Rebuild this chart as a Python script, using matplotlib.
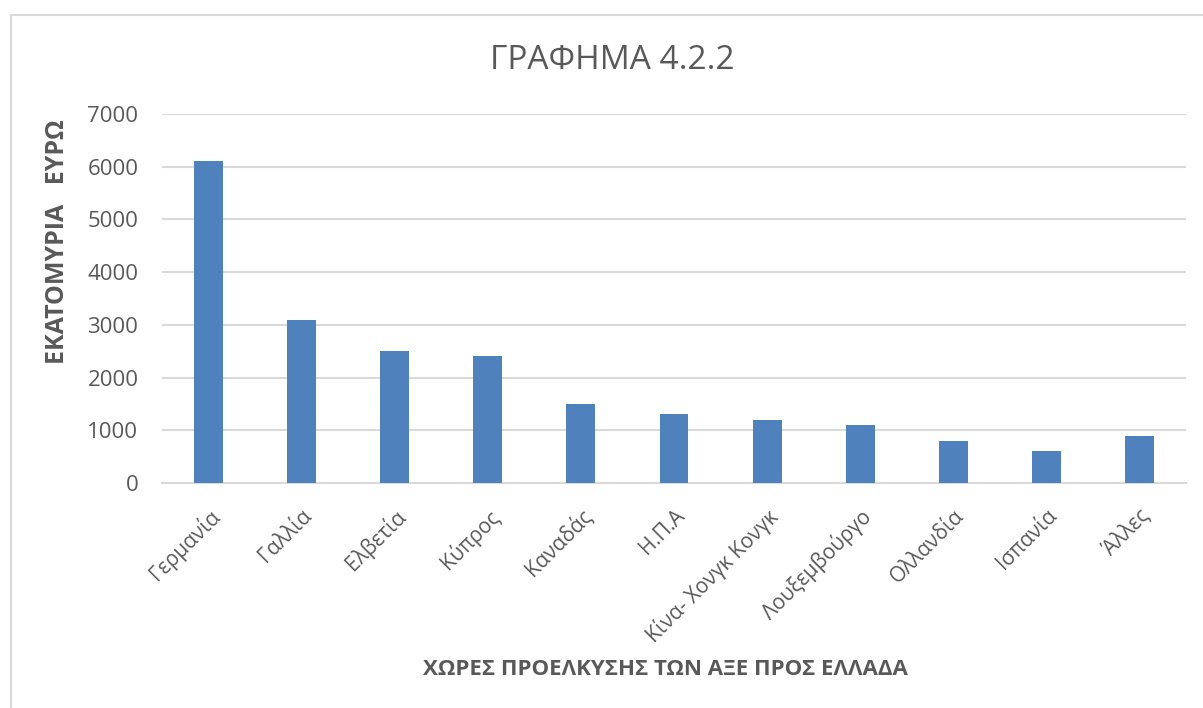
import numpy as np
import matplotlib.pyplot as plt
from matplotlib.patches import Rectangle

# Data
countries = ['Γερμανία', 'Γαλλία', 'Ελβετία', 'Κύπρος', 'Καναδάς', 'Η.Π.Α',
             'Κίνα- Χονγκ Κονγκ', 'Λουξεμβούργο', 'Ολλανδία', 'Ισπανία', 'Άλλες']
values = [6100, 3100, 2500, 2400, 1500, 1300, 1200, 1100, 800, 600, 900]
yticks = [0, 1000, 2000, 3000, 4000, 5000, 6000, 7000]

plt.rcParams['font.family'] = ['Open Sans', 'DejaVu Sans']
text_col = '#595959'
grid_col = '#D9D9D9'

fig = plt.figure(figsize=(12.03, 7.08), dpi=100)
fig.patches.append(Rectangle((11 / 1203, -0.1), 1.2, 1 - 15 / 708 + 0.1,
                             transform=fig.transFigure, fill=False,
                             edgecolor=grid_col, linewidth=1.5))

ax = fig.add_axes([162 / 1203, 1 - 483 / 708, (1186 - 162) / 1203, (483 - 114) / 708])
x = np.arange(len(countries))
ax.bar(x, values, width=0.31, color='#4F81BD', zorder=3)

ax.set_xlim(-0.5, len(countries) - 0.5)
ax.set_ylim(0, 7000)
ax.set_yticks(yticks)
ax.set_xticks(x)
ax.set_xticklabels(countries, rotation=45, ha='right', rotation_mode='anchor')
ax.grid(axis='y', color=grid_col, linewidth=1.5, zorder=0)
for s in ['top', 'right', 'left']:
    ax.spines[s].set_visible(False)
ax.spines['bottom'].set_color(grid_col)
ax.spines['bottom'].set_linewidth(1.5)
ax.tick_params(axis='y', length=0, labelsize=16, labelcolor=text_col, pad=17)
ax.tick_params(axis='x', length=0, labelsize=15, labelcolor=text_col, pad=16)

fig.text(0.509, 0.915, 'ΓΡΑΦΗΜΑ 4.2.2', ha='center', va='center', fontsize=24, color=text_col)
fig.text(0.048, 0.658, 'ΕΚΑΤΟΜΥΡΙΑ   ΕΥΡΩ', rotation=90, ha='center', va='center',
         fontsize=18, fontweight='bold', color=text_col)
fig.text(0.553, 0.055, 'ΧΩΡΕΣ ΠΡΟΕΛΚΥΣΗΣ ΤΩΝ ΑΞΕ ΠΡΟΣ ΕΛΛΑΔΑ', ha='center', va='center',
         fontsize=16, fontweight='bold', color=text_col)

fig.savefig('out.png', dpi=100)
